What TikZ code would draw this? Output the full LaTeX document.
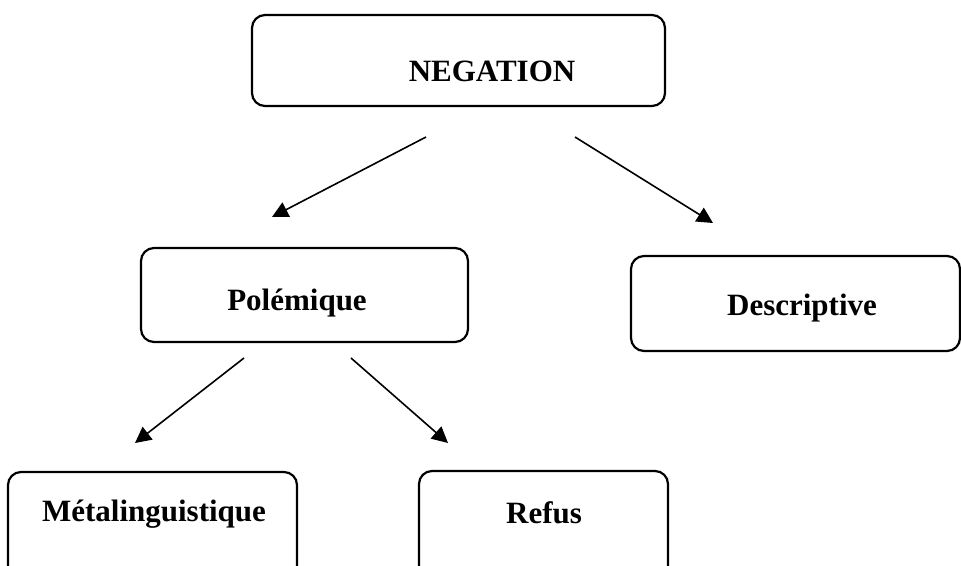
\documentclass[tikz,border=0pt]{standalone}
\usepackage{fontspec}
\setmainfont{Liberation Serif}
\usetikzlibrary{arrows.meta}
\begin{document}
\begin{tikzpicture}[x=1pt,y=-1pt,
  box/.style={draw=black, line width=2.2pt, rounded corners=13pt, inner sep=0pt},
  lbl/.style={font=\fontsize{31}{37}\selectfont\bfseries, anchor=base, inner sep=0pt},
  arr/.style={line width=1.6pt, -{Triangle[length=16pt,width=16pt]}}]
\useasboundingbox (0,0) rectangle (961,565);
\clip (0,0) rectangle (961,565);
% boxes
\node[box, minimum width=413pt, minimum height=91pt] (neg) at (458.5,60.5) {};
\node[box, minimum width=327pt, minimum height=94pt] (pol) at (304.5,295) {};
\node[box, minimum width=329pt, minimum height=95pt] (des) at (795.5,303.5) {};
\node[box, minimum width=289pt, minimum height=128pt] (met) at (152.5,536) {};
\node[box, minimum width=249pt, minimum height=129pt] (ref) at (543.5,535.5) {};
% labels
\node[lbl] (tneg) at (492,81) {NEGATION};
\node[lbl] (tpol) at (297,310) {Polémique};
\node[lbl] (tdes) at (802,315) {Descriptive};
\node[lbl] (tmet) at (154,521) {Métalinguistique};
\node[lbl] (tref) at (544,523) {Refus};
% arrow end points
\coordinate (a1s) at (426,137); \coordinate (a1e) at (272,217);
\coordinate (a2s) at (575,137); \coordinate (a2e) at (713,223);
\coordinate (a3s) at (244,358); \coordinate (a3e) at (135,443);
\coordinate (a4s) at (351,358); \coordinate (a4e) at (448,443);
\draw[arr] (a1s) -- (a1e);
\draw[arr] (a2s) -- (a2e);
\draw[arr] (a3s) -- (a3e);
\draw[arr] (a4s) -- (a4e);
\end{tikzpicture}
\end{document}
